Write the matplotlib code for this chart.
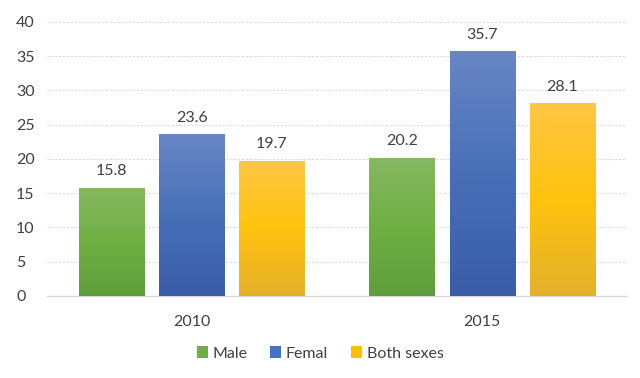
import numpy as np
import matplotlib
matplotlib.use("Agg")
import matplotlib.pyplot as plt
from matplotlib.colors import LinearSegmentedColormap
from matplotlib.patches import Patch

# data
years = ["2010", "2015"]
series = ["Male", "Femal", "Both sexes"]
male = [15.8, 20.2]
femal = [23.6, 35.7]
both = [19.7, 28.1]
yticks = [0, 5, 10, 15, 20, 25, 30, 35, 40]

# gradient stops (bottom, middle, top) and legend swatch colour
grads = [["#5e9e3c", "#6fb042", "#86b862"],
         ["#3a5ca9", "#4770b8", "#6886c4"],
         ["#e3b12a", "#ffc20e", "#ffc745"]]
swatch = ["#70ad47", "#4472c4", "#ffc000"]

plt.rcParams["font.family"] = ["Lato", "DejaVu Sans"]
text_col = "#404040"

fig = plt.figure(figsize=(6.4, 3.78), dpi=100)
ax = fig.add_axes([0.073, 0.217, 0.907, 0.725])

x = np.arange(len(years))
width = 0.224
step = 0.276
values = [male, femal, both]

for i, vals in enumerate(values):
    cmap = LinearSegmentedColormap.from_list("g%d" % i, grads[i])
    bars = ax.bar(x + (i - 1) * step, vals, width, color="none", edgecolor="none", zorder=3)
    for b, v in zip(bars, vals):
        x0, w, h = b.get_x(), b.get_width(), b.get_height()
        grad = np.linspace(0, 1, 256).reshape(-1, 1)
        im = ax.imshow(grad, cmap=cmap, origin="lower", aspect="auto",
                       extent=[x0, x0 + w, 0, h], zorder=3)
        im.set_clip_path(b)
        ax.text(b.get_x() + w / 2, v + 1.4, "%.1f" % v, ha="center", va="bottom",
                fontsize=11.5, color=text_col)

ax.set_xlim(-0.5, 1.5)
ax.set_ylim(0, 40)
ax.set_yticks(yticks)
ax.set_xticks(x)
ax.set_xticklabels(years)
ax.tick_params(axis="both", length=0, labelsize=11.5, labelcolor=text_col)
ax.tick_params(axis="x", pad=14)
ax.tick_params(axis="y", pad=22)
for lab in ax.get_yticklabels():
    lab.set_horizontalalignment("left")
ax.yaxis.grid(True, color="#dcdcdc", linestyle=(0, (2, 1.5)), linewidth=0.8, zorder=0)
ax.set_axisbelow(True)
for s in ["top", "right", "left"]:
    ax.spines[s].set_visible(False)
ax.spines["bottom"].set_color("#d9d9d9")
ax.spines["bottom"].set_linewidth(1.0)

handles = [Patch(facecolor=c, edgecolor="none") for c in swatch]
leg = fig.legend(handles, series, loc="center", bbox_to_anchor=(0.5, 0.065), ncol=3,
                 frameon=False, fontsize=11.5, handlelength=0.7, handleheight=0.7,
                 handletextpad=0.3, columnspacing=1.4)
for t in leg.get_texts():
    t.set_color(text_col)

fig.savefig("out.png", dpi=100)
